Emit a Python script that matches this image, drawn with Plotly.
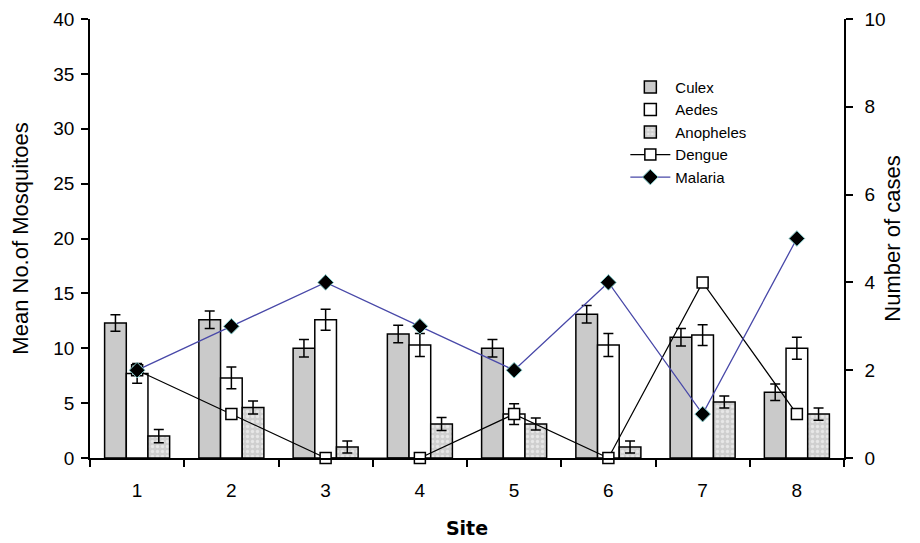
import plotly.graph_objects as go

sites = ["1", "2", "3", "4", "5", "6", "7", "8"]
culex = [12.3, 12.6, 10.0, 11.3, 10.0, 13.1, 11.0, 6.0]
culex_err = [0.75, 0.8, 0.8, 0.8, 0.8, 0.8, 0.8, 0.75]
aedes = [7.7, 7.3, 12.6, 10.3, 4.0, 10.3, 11.2, 10.0]
aedes_err = [0.9, 1.0, 0.95, 1.05, 0.95, 1.05, 0.95, 1.0]
anopheles = [2.0, 4.6, 1.0, 3.1, 3.1, 1.0, 5.1, 4.0]
anopheles_err = [0.6, 0.6, 0.55, 0.6, 0.55, 0.55, 0.55, 0.55]
dengue = [2, 1, 0, 0, 1, 0, 4, 1]
malaria = [2, 3, 4, 3, 2, 4, 1, 5]

FONT = "Liberation Sans, Arial, sans-serif"
err_style = dict(type="data", color="black", thickness=1.5, width=5)
bar_line = dict(color="black", width=1.5)

fig = go.Figure()
fig.add_trace(go.Bar(
    x=sites, y=culex, name="Culex",
    marker=dict(color="#cacaca", line=bar_line),
    error_y=dict(array=culex_err, **err_style),
))
fig.add_trace(go.Bar(
    x=sites, y=aedes, name="Aedes",
    marker=dict(color="white", line=bar_line),
    error_y=dict(array=aedes_err, **err_style),
))
fig.add_trace(go.Bar(
    x=sites, y=anopheles, name="Anopheles",
    marker=dict(color="#cfcfcf", line=bar_line,
                pattern=dict(shape=".", fgcolor="white", bgcolor="#cfcfcf",
                             size=5, solidity=0.35)),
    error_y=dict(array=anopheles_err, **err_style),
))
fig.add_trace(go.Scatter(
    x=sites, y=dengue, name="Dengue", yaxis="y2", mode="lines+markers",
    cliponaxis=False,
    line=dict(color="black", width=1.2),
    marker=dict(symbol="square", size=11, color="white",
                line=dict(color="black", width=1.5)),
))
fig.add_trace(go.Scatter(
    x=sites, y=malaria, name="Malaria", yaxis="y2", mode="lines+markers",
    cliponaxis=False,
    line=dict(color="#4848a8", width=1.3),
    marker=dict(symbol="diamond", size=12, color="black",
                line=dict(color="#7fc8c8", width=1)),
))

# page body adds an 8px offset, margins compensate for it
fig.update_layout(
    width=920, height=543,
    margin=dict(l=82, r=84, t=11, b=93),
    paper_bgcolor="white", plot_bgcolor="white",
    barmode="group", bargap=0.31, bargroupgap=0,
    font=dict(family=FONT, size=19, color="black"),
    showlegend=True,
    legend=dict(x=0.71, y=0.882, xanchor="left", yanchor="top",
                bgcolor="rgba(0,0,0,0)", font=dict(family=FONT, size=15),
                tracegroupgap=0, itemwidth=40, traceorder="normal"),
    xaxis=dict(
        type="category", tickson="boundaries", ticks="outside", ticklen=7,
        tickcolor="black", tickwidth=1.5, showline=True, linecolor="black",
        linewidth=1.5, showgrid=False, zeroline=False, automargin=False,
        tickfont=dict(family=FONT, size=19), ticklabelstandoff=14,
        title=dict(text="<b>Site</b>",
                   font=dict(family="DejaVu Sans, Verdana, sans-serif", size=19),
                   standoff=22),
    ),
    yaxis=dict(
        range=[0, 40], dtick=5, ticks="outside", ticklen=7, tickcolor="black",
        tickwidth=1.5, showline=True, linecolor="black", linewidth=1.5,
        showgrid=False, zeroline=False, automargin=False,
        tickfont=dict(family=FONT, size=19), ticklabelstandoff=3,
        title=dict(text="Mean No.of Mosquitoes", font=dict(family=FONT, size=22),
                   standoff=22),
    ),
    yaxis2=dict(
        range=[0, 10], dtick=2, overlaying="y", side="right", ticks="outside",
        ticklen=7, tickcolor="black", tickwidth=1.5, showline=True,
        linecolor="black", linewidth=1.5, showgrid=False, zeroline=False,
        automargin=False, tickfont=dict(family=FONT, size=19),
        ticklabelstandoff=8,
        title=dict(text="Number of cases", font=dict(family=FONT, size=22),
                   standoff=0),
    ),
)

fig.write_html("out.html")
